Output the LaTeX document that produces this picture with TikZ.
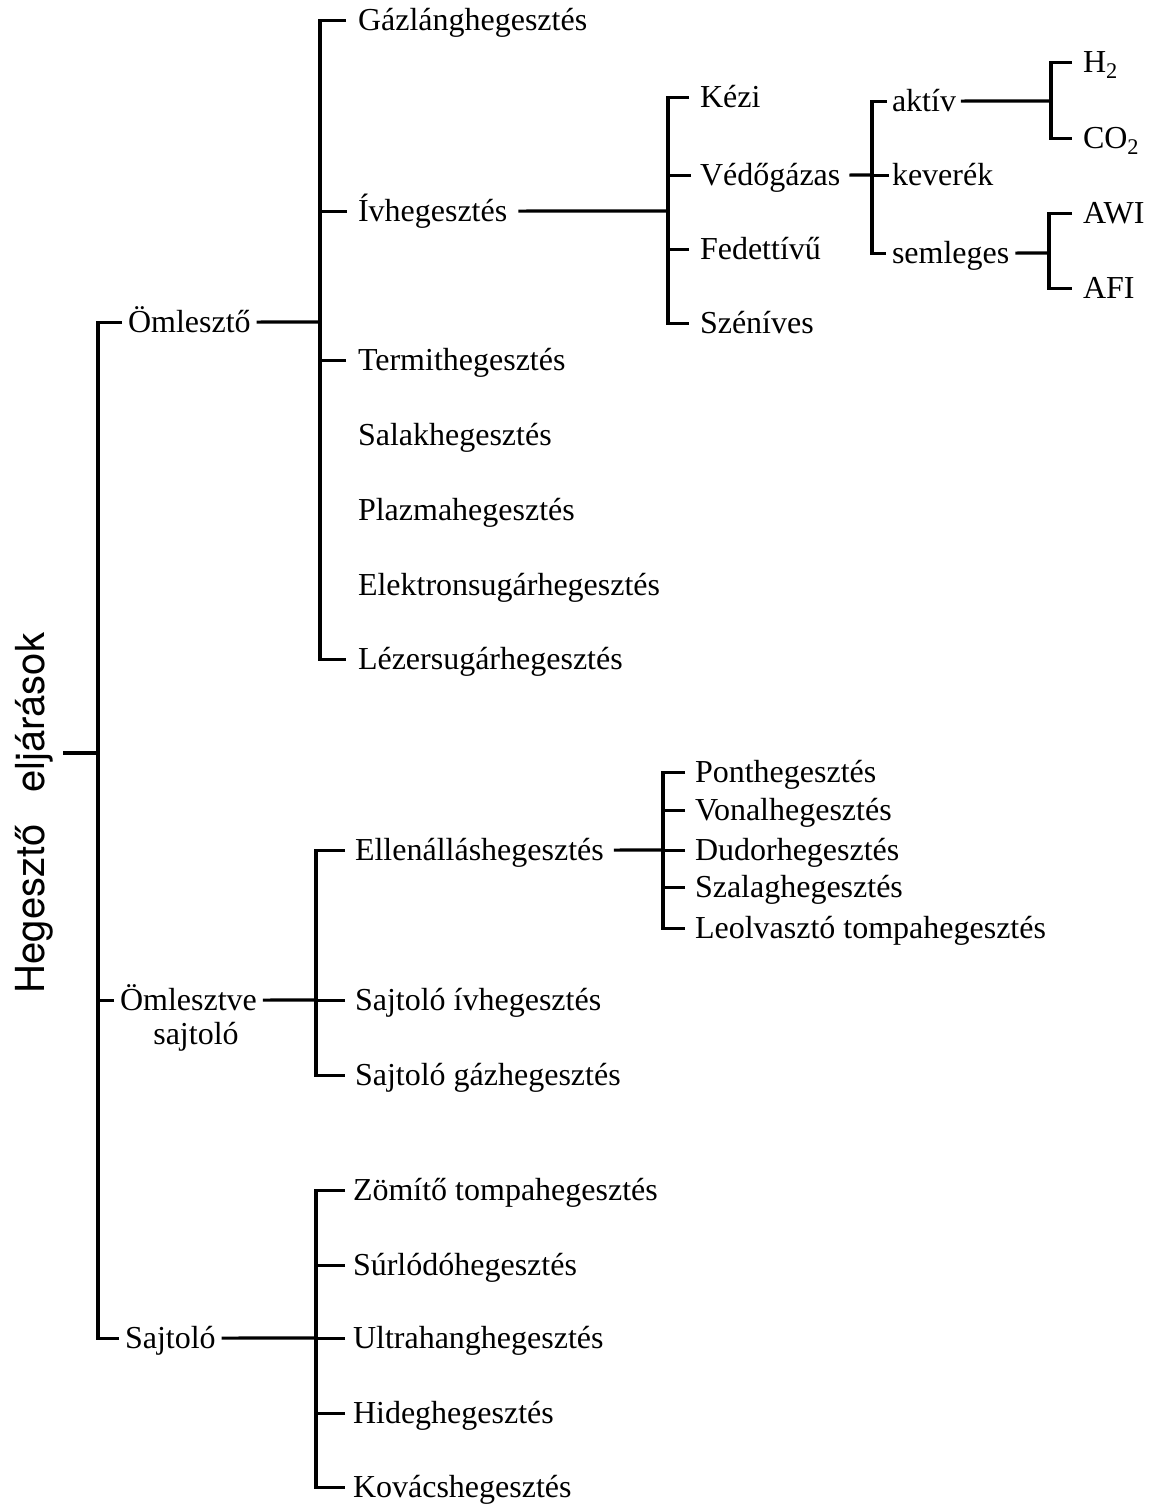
\documentclass[tikz,border=0pt]{standalone}
\usepackage{fontspec}
\setmainfont{Liberation Serif}
\newfontfamily\titlefont{TeX Gyre Heros}
\begin{document}
\begin{tikzpicture}[x=1pt,y=-1pt,
  line width=3.2pt, line join=miter,
  lbl/.style={anchor=text, inner xsep=#1, inner ysep=0pt, outer sep=0pt,
    text height=22.4pt, text depth=2.6pt, font=\fontsize{32}{36}\selectfont},
  lbl/.default=10pt,
  ttl/.style={rotate=90, anchor=base, inner sep=0pt,
    font=\titlefont\fontsize{40}{44}\selectfont}]
\useasboundingbox (0,0) rectangle (1158,1505);

% title
\node[ttl] (title) at (44,813) {Hegesztő\hspace{32pt}eljárások};

% level 1
\node[lbl=6pt] (om) at (128,332) {Ömlesztő};
\node[lbl=6pt] (omsaj) at (120,1010) {Ömlesztve};
\node[anchor=base, inner sep=0pt, font=\fontsize{32}{36}\selectfont] (omsaj2) at (196,1044) {sajtoló};
\node[lbl=6pt] (saj) at (125,1348) {Sajtoló};

% group A
\node[lbl=12pt] (gaz) at (358,30) {Gázlánghegesztés};
\node[lbl=11pt] (iv) at (358,221) {Ívhegesztés};
\node[lbl=12pt] (termit) at (358,370) {Termithegesztés};
\node[lbl] (salak) at (358,445) {Salakhegesztés};
\node[lbl] (plazma) at (358,520) {Plazmahegesztés};
\node[lbl] (elektron) at (358,595) {Elektronsugárhegesztés};
\node[lbl=12pt] (lezer) at (358,669) {Lézersugárhegesztés};

% Iv subtree
\node[lbl=11pt] (kezi) at (700,107) {Kézi};
\node[lbl=9pt] (vedo) at (700,185) {Védőgázas};
\node[lbl=11pt] (fedett) at (700,259) {Fedettívű};
\node[lbl=11pt] (szen) at (700,333) {Széníves};

\node[lbl=5pt] (aktiv) at (892,111) {aktív};
\node[lbl=3pt] (keverek) at (892,185) {keverék};
\node[lbl=6pt] (semleges) at (892,263) {semleges};

\node[lbl=11pt] (h2) at (1083,72) {H\textsubscript{2}};
\node[lbl=11pt] (co2) at (1083,148) {CO\textsubscript{2}};
\node[lbl=11pt] (awi) at (1083,223) {AWI};
\node[lbl=11pt] (afi) at (1083,298) {AFI};

% group B
\node[lbl] (ell) at (355,860) {Ellenálláshegesztés};
\node[lbl] (sajiv) at (355,1010) {Sajtoló ívhegesztés};
\node[lbl] (sajgaz) at (355,1085) {Sajtoló gázhegesztés};

\node[lbl] (pont) at (695,782) {Ponthegesztés};
\node[lbl] (vonal) at (695,820) {Vonalhegesztés};
\node[lbl] (dudor) at (695,860) {Dudorhegesztés};
\node[lbl] (szalag) at (695,897) {Szalaghegesztés};
\node[lbl] (leolv) at (695,938) {Leolvasztó tompahegesztés};

% group C
\node[lbl=8pt] (zom) at (353,1200) {Zömítő tompahegesztés};
\node[lbl=8pt] (surl) at (353,1275) {Súrlódóhegesztés};
\node[lbl=8pt] (ultra) at (353,1348) {Ultrahanghegesztés};
\node[lbl=8pt] (hideg) at (353,1423) {Hideghegesztés};
\node[lbl=8pt] (kovacs) at (353,1497) {Kovácshegesztés};

% junction coordinates
\coordinate (root) at (98,753);
\coordinate (rootL) at (63,753);
\coordinate (jA) at (320,322);
\coordinate (jIv) at (668,211);
\coordinate (jV) at (872,175);
\coordinate (jH) at (1051,101);
\coordinate (jS) at (1049,253);
\coordinate (jB) at (316,1000);
\coordinate (jE) at (663,850);
\coordinate (jC) at (316,1338);

% root
\draw (om.west) -| (root) |- (saj.west);
\draw (rootL) -- (root);
\draw (omsaj.west) -- (omsaj.west -| root);

% group A
\draw (gaz.west) -| (jA) |- (lezer.west);
\draw (om.east) -- (jA);
\draw (iv.west) -- (iv.west -| jA);
\draw (termit.west) -- (termit.west -| jA);

% Iv
\draw (kezi.west) -| (jIv) |- (szen.west);
\draw (iv.east) -- (jIv);
\draw (vedo.west) -- (vedo.west -| jIv);
\draw (fedett.west) -- (fedett.west -| jIv);

% Vedogazas
\draw (aktiv.west) -| (jV) |- (semleges.west);
\draw (vedo.east) -- (jV);
\draw (keverek.west) -- (keverek.west -| jV);

\draw (h2.west) -| (jH) |- (co2.west);
\draw (aktiv.east) -- (jH);
\draw (awi.west) -| (jS) |- (afi.west);
\draw (semleges.east) -- (jS);

% group B
\draw (ell.west) -| (jB) |- (sajgaz.west);
\draw (omsaj.east) -- (jB);
\draw (sajiv.west) -- (sajiv.west -| jB);

\draw (pont.west) -| (jE) |- (leolv.west);
\draw (ell.east) -- (jE);
\draw (vonal.west) -- (vonal.west -| jE);
\draw (dudor.west) -- (dudor.west -| jE);
\draw (szalag.west) -- (szalag.west -| jE);

% group C
\draw (zom.west) -| (jC) |- (kovacs.west);
\draw (saj.east) -- (jC);
\draw (surl.west) -- (surl.west -| jC);
\draw (ultra.west) -- (ultra.west -| jC);
\draw (hideg.west) -- (hideg.west -| jC);
\end{tikzpicture}
\end{document}
